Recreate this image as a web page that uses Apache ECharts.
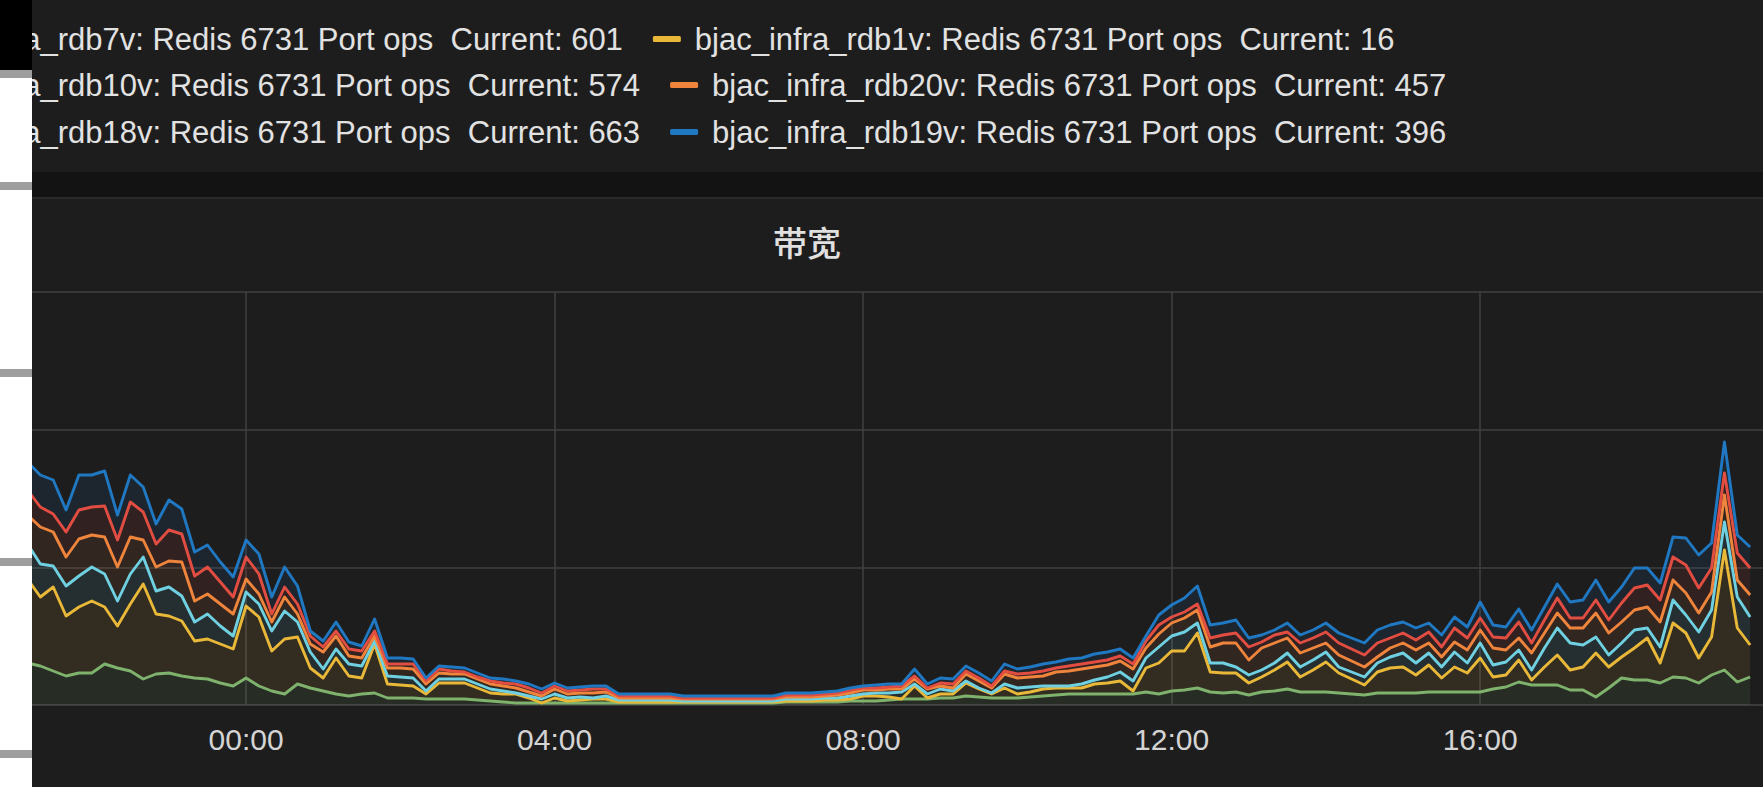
<!DOCTYPE html>
<html>
<head>
<meta charset="utf-8">
<script src="https://cdn.jsdelivr.net/npm/echarts@6/dist/echarts.min.js"></script>
<style>
html,body{margin:0;padding:0;background:#1e1d1e;overflow:hidden;}
#chart{width:1763px;height:787px;}
</style>
</head>
<body>
<div id="chart"></div>
<script>
// ---- data: 10-minute samples starting 21:10 of the previous day ----
const startMinute = -170;   // minutes relative to midnight (21:10)
const stepMinute = 10;
const sampleCount = 136;    // 135 samples + one empty slot at the right edge

const seriesNames = [
  'bjac_infra_rdb7v: Redis 6731 Port ops',
  'bjac_infra_rdb1v: Redis 6731 Port ops',
  'bjac_infra_rdb10v: Redis 6731 Port ops',
  'bjac_infra_rdb20v: Redis 6731 Port ops',
  'bjac_infra_rdb18v: Redis 6731 Port ops',
  'bjac_infra_rdb19v: Redis 6731 Port ops'
];
const currentValues = [601, 16, 574, 457, 663, 396];
const seriesColors = ['#7EB26D', '#EAB839', '#6ED0E0', '#EF843C', '#E24D42', '#1F78C1'];

const rdb7v = [
  42,39,34,29,32,32,41,37,34,26,
  31,32,29,27,26,22,19,27,19,14,
  11,21,17,14,11,9,11,12,7,7,
  7,6,6,6,6,5,4,3,2,2,
  2,2,2,2,2,2,2,2,2,2,
  2,2,2,2,2,2,2,2,2,3,
  3,3,3,3,4,4,4,5,6,6,
  6,7,7,9,8,7,7,7,8,9,
  10,11,11,11,11,11,11,13,11,14,
  15,17,13,12,13,10,13,14,16,13,
  13,13,12,11,10,12,12,12,12,13,
  13,13,13,13,16,18,23,20,20,20,
  15,15,8,17,27,25,25,22,28,27,
  22,30,35,23,28
];
const rdb1v = [
  84,69,84,60,66,72,57,42,67,95,
  60,57,55,37,40,39,37,72,69,40,
  55,47,20,13,36,20,16,49,14,13,
  12,5,16,16,16,12,8,8,9,5,
  0,5,2,3,4,4,1,1,1,1,
  1,1,1,1,1,1,1,1,1,1,
  1,1,2,2,2,5,5,3,0,13,
  1,4,4,13,8,4,10,4,5,7,
  7,6,6,10,11,13,3,24,31,40,
  39,55,20,20,19,12,15,21,27,15,
  22,30,20,15,10,21,25,26,18,27,
  14,25,19,34,12,12,22,5,18,30,
  20,23,44,21,21,32,42,20,54,45,
  25,38,120,54,32
];
const rdb10v = [
  35,33,21,30,31,34,33,25,30,27,
  23,29,25,19,25,18,13,14,13,20,
  28,15,16,9,9,12,12,3,8,8,
  8,3,4,4,4,4,4,3,1,2,
  4,4,3,3,1,3,2,2,2,2,
  2,1,1,1,1,1,1,1,1,2,
  2,2,2,2,3,2,3,4,7,2,
  4,5,3,2,1,1,4,6,5,3,
  2,2,4,4,6,9,10,10,16,15,
  19,10,9,10,6,8,7,7,9,10,
  10,10,6,7,8,9,11,14,12,12,
  11,15,10,15,12,13,10,10,19,27,
  27,22,16,12,14,18,10,16,23,18,
  26,27,28,31,28
];
const rdb20v = [
  29,37,34,29,37,32,37,34,37,17,
  24,26,34,21,20,22,22,13,10,9,
  14,8,8,17,13,8,8,5,8,9,
  9,7,6,5,5,5,5,5,5,4,
  3,5,4,4,5,4,2,2,2,2,
  2,2,2,2,2,2,2,2,2,2,
  2,2,2,3,3,4,3,4,3,5,
  5,3,3,7,7,5,10,10,10,10,
  14,15,15,13,12,11,12,10,13,13,
  14,13,16,20,24,15,22,20,15,14,
  12,9,12,11,10,6,9,10,13,10,
  10,10,13,13,17,12,12,17,15,15,
  15,17,24,22,21,20,21,25,20,22,
  19,18,27,17,22
];
const rdb18v = [
  25,20,18,25,29,28,31,27,35,28,
  23,31,28,25,27,22,17,22,20,8,
  10,10,8,5,5,7,7,5,4,4,
  5,3,4,3,2,2,3,3,4,4,
  3,3,3,3,4,3,2,2,2,2,
  2,1,1,1,1,1,1,1,1,2,
  2,2,2,2,3,2,2,2,3,3,
  1,3,4,3,3,2,3,4,4,5,
  4,5,5,5,5,5,5,7,9,6,
  6,6,9,8,10,13,6,8,6,10,
  10,11,12,12,12,14,10,10,10,11,
  10,14,12,12,11,12,16,10,13,15,
  10,10,13,13,19,22,22,22,23,28,
  25,24,22,27,27
];
const rdb19v = [
  28,32,34,22,35,32,35,25,27,25,
  20,30,25,24,22,20,20,17,20,17,
  20,18,5,6,9,7,5,12,6,6,
  5,3,3,4,4,4,3,4,3,4,
  4,3,3,3,3,3,2,2,2,2,
  2,2,2,2,2,2,2,2,2,2,
  2,2,2,2,2,2,3,3,2,7,
  4,5,5,5,5,5,7,5,6,7,
  6,7,6,8,8,7,6,5,10,12,
  14,18,13,12,13,9,7,5,9,8,
  8,9,10,11,12,13,13,11,12,9,
  12,11,11,16,12,11,13,13,13,14,
  16,18,20,18,16,20,17,17,20,27,
  33,25,31,18,21
];
const seriesValues = [rdb7v, rdb1v, rdb10v, rdb20v, rdb18v, rdb19v];

const shownTickLabels = ['00:00', '04:00', '08:00', '12:00', '16:00'];
const chartTitle = '带宽';

// ---- build time categories ----
function pad(n) { return (n < 10 ? '0' : '') + n; }
const timeLabels = [];
for (let i = 0; i < sampleCount; i++) {
  const m = ((startMinute + i * stepMinute) % 1440 + 1440) % 1440;
  timeLabels.push(pad(Math.floor(m / 60)) + ':' + pad(m % 60));
}
const isMajor = (idx) => shownTickLabels.indexOf(timeLabels[idx]) >= 0;

// ---- chart ----
const chart = echarts.init(document.getElementById('chart'), null, {renderer: 'svg'});

const series = seriesValues.map((vals, s) => ({
  name: seriesNames[s],
  type: 'line',
  stack: 'total',
  data: vals,
  showSymbol: false,
  symbol: 'none',
  lineStyle: {width: 2.9, color: seriesColors[s], join: 'round'},
  itemStyle: {color: seriesColors[s]},
  areaStyle: {color: seriesColors[s], opacity: 0.1},
  emphasis: {disabled: true},
  animation: false
}));

const legendRows = [[0, 1], [2, 3], [4, 5]];
const legendTops = [21, 67, 114];
const legends = legendRows.map((row, r) => ({
  show: true,
  orient: 'horizontal',
  left: -136,
  top: legendTops[r],
  width: 2000,
  padding: 0,
  itemGap: 30,
  itemWidth: 28,
  itemHeight: 6,
  icon: 'roundRect',
  selectedMode: false,
  data: row.map(i => ({name: seriesNames[i], icon: 'roundRect', itemStyle: {color: seriesColors[i]}})),
  formatter: name => name + '  Current: ' + currentValues[seriesNames.indexOf(name)],
  textStyle: {
    color: '#e2e2e2', fontSize: 31, lineHeight: 36,
    fontFamily: '"Liberation Sans", Arial, sans-serif',
    padding: [0, 0, 0, 9]
  }
}));

const grayBars = [70, 182, 369, 558, 750];

chart.setOption({
  backgroundColor: '#1e1d1e',
  animation: false,
  title: {
    text: chartTitle,
    left: 773,
    top: 224,
    padding: 0,
    textStyle: {
      color: '#e0e0e0', fontSize: 34, fontWeight: 500,
      fontFamily: '"Noto Sans CJK SC", sans-serif'
    }
  },
  legend: legends,
  grid: {left: 27.5, right: 0, top: 292, bottom: 82, containLabel: false},
  xAxis: {
    type: 'category',
    data: timeLabels,
    boundaryGap: false,
    axisLine: {show: true, lineStyle: {color: '#3e3e3e', width: 1.5}},
    axisTick: {show: false},
    splitLine: {show: true, interval: (idx) => isMajor(idx), lineStyle: {color: '#404040', width: 1.5}},
    axisLabel: {
      show: true,
      interval: (idx) => isMajor(idx),
      margin: 19,
      color: '#d4d4d4',
      fontSize: 30,
      lineHeight: 30,
      fontFamily: '"Liberation Sans", Arial, sans-serif'
    }
  },
  yAxis: {
    type: 'value',
    min: 0,
    max: 413,
    interval: 413 / 3,
    axisLine: {show: false},
    axisTick: {show: false},
    axisLabel: {show: false},
    splitLine: {show: true, lineStyle: {color: '#404040', width: 1.5}}
  },
  series: series,
  graphic: [
    {type: 'rect', z: -10, silent: true, shape: {x: 0, y: 172, width: 1763, height: 25}, style: {fill: '#131313'}},
    {type: 'rect', z: -10, silent: true, shape: {x: 0, y: 197, width: 1763, height: 2}, style: {fill: '#2a2a2a'}},
    {type: 'rect', z: 100, silent: true, shape: {x: 0, y: 0, width: 32, height: 787}, style: {fill: '#ffffff'}},
    {type: 'rect', z: 101, silent: true, shape: {x: 0, y: 0, width: 32, height: 70}, style: {fill: '#000000'}}
  ].concat(grayBars.map(y => ({
    type: 'rect', z: 101, silent: true, shape: {x: 0, y: y, width: 32, height: 8}, style: {fill: '#9e9e9e'}
  })))
});
</script>
</body>
</html>
